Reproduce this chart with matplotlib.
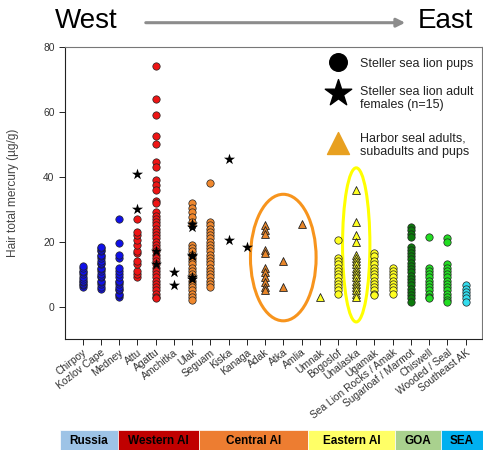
import matplotlib
matplotlib.use('Agg')
import matplotlib.pyplot as plt
from matplotlib.patches import Ellipse, Rectangle, FancyArrowPatch

plt.rcParams['font.family'] = ['Liberation Sans', 'DejaVu Sans']

# Sites from west to east
sites = ['Chirpoy', 'Kozlov Cape', 'Medney', 'Attu', 'Agattu', 'Amchitka', 'Ulak',
         'Seguam', 'Kiska', 'Kanaga', 'Adak', 'Atka', 'Amlia', 'Umnak', 'Bogoslof',
         'Unalaska', 'Ugamak', 'Sea Lion Rocks / Amak', 'Sugarloaf / Marmot',
         'Chiswell', 'Wooded / Seal', 'Southeast AK']

# Steller sea lion pups: hair THg (ug/g) per site
pups = {
    'Chirpoy': [6, 6.5, 7, 7.5, 8, 8.5, 9, 10, 10.5, 11, 12, 12.5],
    'Kozlov Cape': [5.5, 6, 7, 7.5, 8, 9, 9.5, 10, 11, 11.5, 12, 13, 13.5, 14, 15,
                    15.5, 16, 17, 17.5, 18, 18.5],
    'Medney': [3, 3.5, 4, 5, 5.5, 6, 7, 7.5, 8, 9, 10, 11, 12, 15, 16, 19.5, 27],
    'Attu': [9, 10, 11, 13, 14, 16.5, 17, 19, 20.5, 22, 23, 27],
    'Agattu': [74, 64, 59, 52.5, 50, 44.5, 43, 39, 37.5, 36, 32.5, 32, 29, 28, 27, 26,
               25, 24, 23, 22, 21, 20, 19, 18, 17, 16, 15, 14, 13, 12, 11, 10, 9, 8,
               7, 6, 5, 4, 3, 2.5],
    'Ulak': [32, 30.5, 29, 27.5, 26, 25, 19, 18, 17, 16, 15, 14, 13, 12, 11, 10, 9,
             8, 7, 6, 5, 4, 3, 2],
    'Seguam': [38, 26, 25, 24, 23, 22, 21, 20, 19, 18, 17, 16, 15, 14, 13, 12, 11,
               10, 9, 8, 7, 6],
    'Bogoslof': [20.5, 15, 14, 13, 12, 11, 10, 9, 8, 7, 6, 5, 4],
    'Ugamak': [16.5, 15.5, 14, 13, 12, 11, 10, 9, 8, 7, 6, 5, 4, 3.5],
    'Sea Lion Rocks / Amak': [12, 11, 10, 9, 8, 7, 6, 5, 4],
    'Sugarloaf / Marmot': [24.5, 23.5, 22.5, 21.5, 18.5, 17.5, 16.5, 15.5, 14.5, 13.5,
                           12.5, 11.5, 10.5, 9.5, 8.5, 7.5, 6.5, 5.5, 4.5, 3.5, 2.5, 1.5],
    'Chiswell': [21.5, 12, 11, 10, 9, 8, 7, 6, 5, 4, 3, 2.5],
    'Wooded / Seal': [21, 20, 13, 12, 11, 10, 9, 8, 7, 6, 5, 4, 3, 2, 1.5],
    'Southeast AK': [6.5, 5.5, 4.5, 3.5, 2.5, 1.5],
}

# Steller sea lion adult females (n=15)
adults = {
    'Attu': [41, 30],
    'Agattu': [17, 13],
    'Amchitka': [10.5, 6.5],
    'Ulak': [25.5, 24.5, 16, 15.5, 9, 8.5],
    'Kiska': [45.5, 20.5],
    'Kanaga': [18.5],
}

# Harbor seals
seals = {
    'Adak': [25, 23.5, 22.5, 17.5, 16.5, 12, 10.5, 9, 7.5, 6, 5],
    'Atka': [14, 6],
    'Amlia': [25.5],
    'Umnak': [3],
    'Unalaska': [36, 26, 22, 20, 16, 15, 14, 13, 12, 11, 10, 9, 8, 7, 6, 5, 4, 3],
}

site_colors = {
    'Chirpoy': '#1010E8', 'Kozlov Cape': '#1010E8', 'Medney': '#1010E8',
    'Attu': '#EE1515', 'Agattu': '#EE1515',
    'Ulak': '#F0882E', 'Seguam': '#F0882E', 'Adak': '#E8862A', 'Atka': '#E8862A',
    'Amlia': '#E8862A',
    'Umnak': '#FFFF22', 'Bogoslof': '#FFFF22', 'Unalaska': '#FFFF22',
    'Ugamak': '#FFFF22', 'Sea Lion Rocks / Amak': '#FFFF22',
    'Sugarloaf / Marmot': '#0C7A0C', 'Chiswell': '#22DD22', 'Wooded / Seal': '#22DD22',
    'Southeast AK': '#33DDEE',
}

regions = ['Russia', 'Western AI', 'Central AI', 'Eastern AI', 'GOA', 'SEA']
region_widths = [58, 81, 109, 87, 46, 42]
region_colors = ['#9DC3E6', '#C00000', '#ED7D31', '#FFFF66', '#A9D18E', '#00B0F0']

fig = plt.figure(figsize=(4.83, 4.5), dpi=100)
ax = fig.add_axes([0.1346, 0.2467, 0.8634, 0.6489])

xpos = {s: i for i, s in enumerate(sites)}

for s, vals in pups.items():
    ax.scatter([xpos[s]] * len(vals), vals, s=28, marker='o', color=site_colors[s],
               edgecolors='#222222', linewidths=0.5, zorder=3)
for s, vals in seals.items():
    ax.scatter([xpos[s]] * len(vals), vals, s=32, marker='^', color=site_colors[s],
               edgecolors='#222222', linewidths=0.6, zorder=4)
for s, vals in adults.items():
    ax.scatter([xpos[s]] * len(vals), vals, s=70, marker='*', color='black',
               linewidths=0, zorder=5)

# Circled harbor seal groups
ax.add_patch(Ellipse((11, 15.1), 3.6, 39, fill=False, edgecolor='#F7941D',
                     linewidth=2.2, zorder=2))
ax.add_patch(Ellipse((15, 19), 1.5, 47.5, fill=False, edgecolor='#FFFF00',
                     linewidth=2.2, zorder=2))

ax.set_xlim(-0.97, 21.9)
ax.set_ylim(-10, 80)
ax.set_yticks([0, 20, 40, 60, 80])
ax.set_xticks(range(len(sites)))
ax.set_xticklabels(sites, rotation=38, ha='right', rotation_mode='anchor',
                   fontsize=7.4, color='#333333')
ax.tick_params(axis='y', labelsize=7.4, labelcolor='#333333', length=4, width=0.6)
ax.tick_params(axis='x', length=4, width=0.6, pad=2)
ax.set_ylabel('Hair total mercury (\u00b5g/g)', fontsize=8.6, color='#444444')
ax.yaxis.set_label_coords(-0.11, 0.5)
for side in ['left', 'bottom']:
    ax.spines[side].set_color('#222222')
for side in ['top', 'right']:
    ax.spines[side].set_color('#777777')

# Legend drawn by hand
ax.scatter([0.655], [0.948], s=160, marker='o', color='black', transform=ax.transAxes,
           clip_on=False, zorder=6)
ax.scatter([0.655], [0.842], s=400, marker='*', color='black', transform=ax.transAxes,
           clip_on=False, zorder=6)
ax.scatter([0.655], [0.672], s=250, marker='^', color='#E8A020', transform=ax.transAxes,
           clip_on=False, zorder=6)
leg_kw = dict(transform=ax.transAxes, fontsize=9, color='#222222', va='center', ha='left')
ax.text(0.707, 0.942, 'Steller sea lion pups', **leg_kw)
ax.text(0.707, 0.823, 'Steller sea lion adult\nfemales (n=15)', linespacing=1.1, **leg_kw)
ax.text(0.707, 0.664, 'Harbor seal adults,\nsubadults and pups', linespacing=1.1, **leg_kw)

# West -> East header
fig.text(55 / 483, 1 - 21 / 450, 'West', fontsize=20, va='center', ha='left')
fig.text(473 / 483, 1 - 21 / 450, 'East', fontsize=20, va='center', ha='right')
fig.add_artist(FancyArrowPatch(
    (143 / 483, 1 - 22.7 / 450), (408 / 483, 1 - 22.7 / 450),
    transform=fig.transFigure, arrowstyle='-|>,head_length=5,head_width=2.5',
    color='#8C8C8C', linewidth=2.2, mutation_scale=1))

# Region band along the bottom
band = fig.add_axes([60 / 483, 0, 423 / 483, 20 / 450])
band.set_xlim(0, sum(region_widths))
band.set_ylim(0, 1)
band.axis('off')
left = 0
for name, w, c in zip(regions, region_widths, region_colors):
    band.add_patch(Rectangle((left, 0), w, 1, facecolor=c, edgecolor='white', linewidth=0.5))
    band.text(left + w / 2, 0.45, name, ha='center', va='center', fontsize=8.5,
              fontweight='bold', color='black')
    left += w

fig.savefig('out.png', dpi=100)
